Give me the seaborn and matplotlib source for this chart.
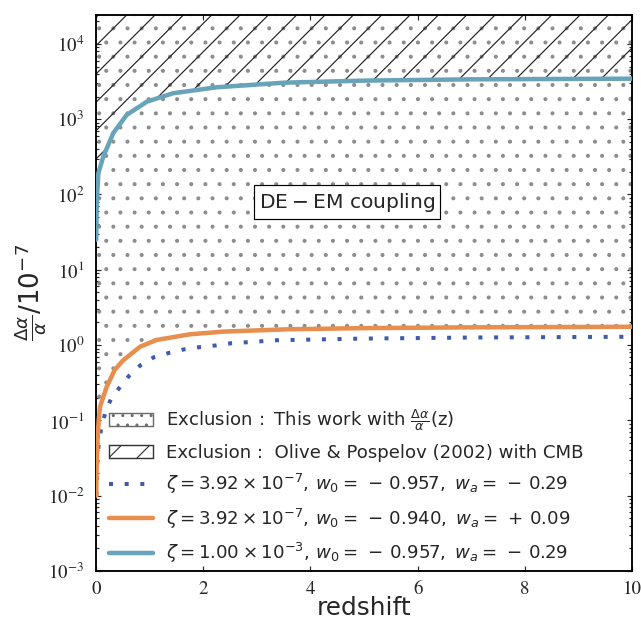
import numpy as np
import pandas as pd
import matplotlib
matplotlib.use("Agg")
import matplotlib.pyplot as plt
import seaborn as sns
from matplotlib.patches import Patch
from matplotlib.lines import Line2D

# ---- data ----
z_dot = [0.006, 0.02, 0.05, 0.093, 0.17, 0.275, 0.435, 0.616, 0.83, 1.08, 1.37, 1.65,
         1.94, 2.24, 2.53, 2.81, 3.37, 5.0, 7.0, 10.0]
v_dot = [0.01, 0.025, 0.048, 0.075, 0.124, 0.19, 0.27, 0.39, 0.54, 0.69, 0.79, 0.88,
         0.94, 0.99, 1.06, 1.09, 1.16, 1.22, 1.26, 1.29]

z_orange = [0.005, 0.01, 0.025, 0.05, 0.075, 0.2, 0.35, 0.51, 0.82, 1.13, 1.75, 2.38,
            3.56, 5.0, 7.0, 10.0]
v_orange = [0.01, 0.02, 0.05, 0.1, 0.152, 0.28, 0.47, 0.63, 0.95, 1.17, 1.39, 1.51,
            1.62, 1.68, 1.72, 1.75]

z_teal = [0.003, 0.013, 0.043, 0.136, 0.32, 0.57, 0.95, 1.44, 2.25, 3.5, 5.0, 7.0, 10.0]
v_teal = [25, 77, 190, 318, 650, 1135, 1710, 2210, 2650, 3050, 3250, 3380, 3450]

labels = [
    r'$\mathrm{Exclusion\,:\ This\ work\ with}\ \frac{\Delta\alpha}{\alpha}\mathrm{(z)}$',
    'Exclusion :  Olive & Pospelov (2002) with CMB',
    r'$\zeta=3.92\times10^{-7},\,w_0=\,-\,0.957,\ w_a=\,-\,0.29$',
    r'$\zeta=3.92\times10^{-7},\,w_0=\,-\,0.940,\ w_a=\,+\,0.09$',
    r'$\zeta=1.00\times10^{-3},\,w_0=\,-\,0.957,\ w_a=\,-\,0.29$',
]
xticks = [0, 2, 4, 6, 8, 10]
yexp = [-3, -2, -1, 0, 1, 2, 3, 4]

C_DOT = '#3F5BA9'
C_ORANGE = '#E88E4E'
C_TEAL = '#67A4BA'

DPI = 170
sns.set_style('ticks')
plt.rcParams['font.family'] = ['DejaVu Sans']
plt.rcParams['hatch.linewidth'] = 0.5

fig = plt.figure(figsize=(641 / DPI, 621 / DPI), dpi=DPI)
ax = fig.add_axes([96 / 641, 1 - 571 / 621, 536 / 641, 556.5 / 621])
ax.set_yscale('log')
ytop = 10 ** 4.39
ax.set_xlim(0, 10)
ax.set_ylim(1e-3, ytop)

# exclusion regions
ax.fill_between(z_orange, v_orange, ytop, facecolor='none', edgecolor='#8c8c8c',
                hatch='..', linewidth=0, zorder=1)
ax.fill_between(z_teal, v_teal, ytop, facecolor='none', edgecolor='#222222',
                hatch='//', linewidth=0, zorder=1)

df_dot = pd.DataFrame({'z': z_dot, 'v': v_dot})
df_or = pd.DataFrame({'z': z_orange, 'v': v_orange})
df_te = pd.DataFrame({'z': z_teal, 'v': v_teal})

sns.lineplot(data=df_dot, x='z', y='v', ax=ax, color=C_DOT, linewidth=1.7,
             linestyle=(0, (1, 2.9)), zorder=3, sort=True)
sns.lineplot(data=df_or, x='z', y='v', ax=ax, color=C_ORANGE, linewidth=1.9,
             zorder=4, sort=True)
sns.lineplot(data=df_te, x='z', y='v', ax=ax, color=C_TEAL, linewidth=1.9,
             zorder=4, sort=True)

ax.text(4.68, 10 ** 1.9, r'$\mathrm{DE-EM\ coupling}$', ha='center', va='center',
        fontsize=8.6, zorder=6,
        bbox=dict(boxstyle='square,pad=0.25', facecolor='white', edgecolor='black',
                  linewidth=0.5))

# ticks
ax.set_xticks(xticks, labels=[str(t) for t in xticks], fontfamily='STIXGeneral',
              fontsize=8)
ax.set_yticks([10.0 ** e for e in yexp], labels=[r'$10^{%d}$' % e for e in yexp],
              math_fontfamily='stix', fontsize=8)
ax.yaxis.set_minor_locator(matplotlib.ticker.LogLocator(base=10, subs=np.arange(2, 10)))
ax.yaxis.set_minor_formatter(matplotlib.ticker.NullFormatter())
ax.tick_params(which='both', direction='in', top=True, right=True, width=0.5)
ax.tick_params(which='major', length=2.2, pad=4.0)
ax.tick_params(which='minor', length=1.1)
ax.tick_params(axis='y', which='major', pad=5.0)
for s in ax.spines.values():
    s.set_linewidth(0.8)
    s.set_color('black')

ax.set_xlabel('redshift', fontsize=10.5, labelpad=-0.5)
ax.set_ylabel(r'$\frac{\Delta\alpha}{\alpha}/10^{-7}$', fontsize=11, labelpad=-0.5)

handles = [
    Patch(facecolor='white', edgecolor='#6b6b6b', hatch='...', linewidth=0.6),
    Patch(facecolor='white', edgecolor='#333333', hatch='//', linewidth=0.6),
    Line2D([], [], color=C_DOT, linewidth=1.7, linestyle=(0, (1, 2.9))),
    Line2D([], [], color=C_ORANGE, linewidth=1.9),
    Line2D([], [], color=C_TEAL, linewidth=1.9),
]
leg = ax.legend(handles, labels, loc='lower left', bbox_to_anchor=(0.024, 0.010),
                frameon=False, fontsize=7.7, borderpad=0, borderaxespad=0,
                handlelength=2.42, handletextpad=0.72, labelspacing=0.58)
leg.set_zorder(10)

fig.savefig('out.png', dpi=DPI)
